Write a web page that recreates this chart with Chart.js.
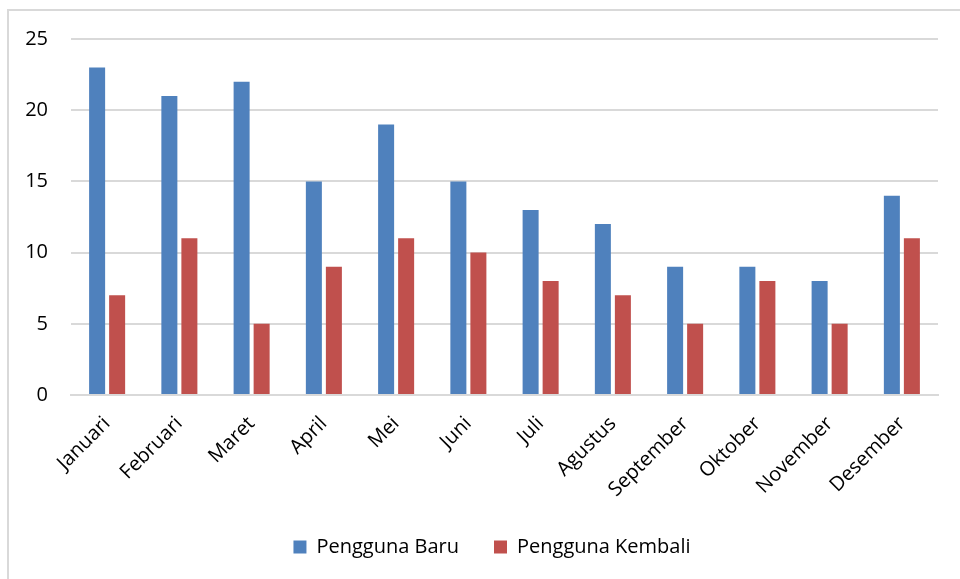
<!DOCTYPE html>
<html lang="en">
<head>
    <meta charset="UTF-8">
    <title>Pengguna Baru vs Pengguna Kembali</title>
    <script src="https://cdn.jsdelivr.net/npm/chart.js"></script>
    <style>
        body { margin: 0; background: #fff; }
        #frame {
            position: absolute; left: 7px; top: 9px;
            width: 960px; height: 600px;
            border: 2px solid #d9d9d9;
        }
        #wrap { position: absolute; left: 0; top: 0; width: 960px; height: 579px; }
    </style>
</head>
<body>
    <div id="frame"></div>
    <div id="wrap"><canvas id="usersChart" width="960" height="579"></canvas></div>

    <script>
        // data
        const months = ['Januari', 'Februari', 'Maret', 'April', 'Mei', 'Juni',
                        'Juli', 'Agustus', 'September', 'Oktober', 'November', 'Desember'];
        const penggunaBaru = [23, 21, 22, 15, 19, 15, 13, 12, 9, 9, 8, 14];
        const penggunaKembali = [7, 11, 5, 9, 11, 10, 8, 7, 5, 8, 5, 11];

        const fontFamily = "'Open Sans', 'Noto Sans', sans-serif";

        // legend sits a bit right of the canvas centre in the original
        const shiftLegend = {
            id: 'shiftLegend',
            afterLayout(chart) {
                if (chart.legend) chart.legend.left += 46;
            }
        };

        const ctx = document.getElementById('usersChart').getContext('2d');
        const usersChart = new Chart(ctx, {
            type: 'bar',
            data: {
                labels: months,
                datasets: [{
                    label: 'Pengguna Baru',
                    data: penggunaBaru,
                    backgroundColor: '#4f81bd'
                }, {
                    label: 'Pengguna Kembali',
                    data: penggunaKembali,
                    backgroundColor: '#c0504d'
                }]
            },
            options: {
                responsive: false,
                animation: false,
                categoryPercentage: 0.554,
                barPercentage: 0.8,
                layout: {
                    padding: { top: 39, right: 22, bottom: 12, left: 0 }
                },
                plugins: {
                    tooltip: { enabled: false },
                    legend: {
                        position: 'bottom',
                        labels: {
                            boxWidth: 13,
                            boxHeight: 13,
                            padding: 35,
                            color: '#000',
                            font: { family: fontFamily, size: 20 }
                        }
                    }
                },
                scales: {
                    x: {
                        grid: { display: false },
                        border: { display: true, color: '#d9d9d9', width: 2 },
                        ticks: {
                            color: '#000',
                            minRotation: 45,
                            maxRotation: 45,
                            padding: 9,
                            font: { family: fontFamily, size: 20 }
                        },
                        afterFit: function (scale) { scale.height = 107; }
                    },
                    y: {
                        min: 0,
                        max: 25,
                        ticks: {
                            stepSize: 5,
                            padding: 23,
                            color: '#000',
                            font: { family: fontFamily, size: 20 }
                        },
                        grid: { color: '#d9d9d9', lineWidth: 2, drawTicks: false },
                        border: { display: false },
                        afterFit: function (scale) { scale.width = 71; }
                    }
                }
            },
            plugins: [shiftLegend]
        });
    </script>
</body>
</html>
